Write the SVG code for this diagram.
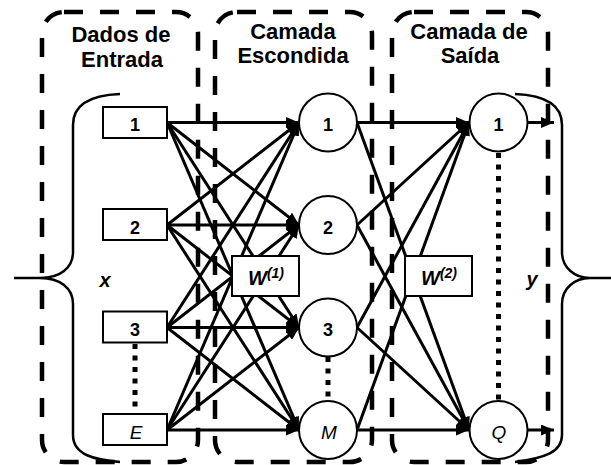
<svg xmlns="http://www.w3.org/2000/svg" width="611" height="465" viewBox="0 0 611 465">
  <style>
    .frame{fill:none;stroke:#000;stroke-width:4.5;stroke-dasharray:19 17}
    .brace{fill:none;stroke:#000;stroke-width:2.5}
    .title{font-family:"Liberation Sans",Arial,sans-serif;font-weight:bold;font-size:22px;text-anchor:middle}
    .box{fill:#fff;stroke:#000;stroke-width:2}
    .num{font-family:"Liberation Sans",Arial,sans-serif;font-weight:bold;font-size:18px;text-anchor:middle}
    .var{font-family:"Liberation Sans",Arial,sans-serif;font-style:italic;font-size:19px;text-anchor:middle}
    .lbl{font-family:"Liberation Sans",Arial,sans-serif;font-style:italic;font-weight:bold;font-size:20px}
    .edge{fill:none;stroke:#000;stroke-width:3;marker-end:url(#arrow)}
    .dots{fill:none;stroke:#000;stroke-width:5;stroke-dasharray:5 6.5}
  </style>
  <defs>
    <marker id="arrow" markerUnits="userSpaceOnUse" markerWidth="13" markerHeight="11" viewBox="0 0 13 11" refX="13" refY="5.5" orient="auto">
      <path d="M0,0 L13,5.5 L0,11 z" fill="#000"/>
    </marker>
  </defs>

  <!-- braces grouping the input vector x and output vector y -->
  <g id="braces">
    <path class="brace" d="M120,94 C95,95 73,102 73,125 L73,252 C73,268 60,278 40,278 L14,278 M40,278 C60,278 73,288 73,304 L73,435 C73,455 95,460 120,462"/>
    <path class="brace" d="M515,94 C540,95 562,102 562,125 L562,252 C562,268 575,278 590,278 L611,278 M590,278 C575,278 562,288 562,304 L562,435 C562,452 545,458 515,462"/>
  </g>

  <!-- weighted connections -->
  <g id="connectors">
    <!-- input layer to hidden layer -->
    <path class="edge" d="M167,122.5 L299,122.5"/>
    <path class="edge" d="M167,122.5 L299,225"/>
    <path class="edge" d="M167,122.5 L299,327.5"/>
    <path class="edge" d="M167,122.5 L299,430"/>
    <path class="edge" d="M167,225 L299,122.5"/>
    <path class="edge" d="M167,225 L299,225"/>
    <path class="edge" d="M167,225 L299,327.5"/>
    <path class="edge" d="M167,225 L299,430"/>
    <path class="edge" d="M167,327.5 L299,122.5"/>
    <path class="edge" d="M167,327.5 L299,225"/>
    <path class="edge" d="M167,327.5 L299,327.5"/>
    <path class="edge" d="M167,327.5 L299,430"/>
    <path class="edge" d="M167,430 L299,122.5"/>
    <path class="edge" d="M167,430 L299,225"/>
    <path class="edge" d="M167,430 L299,327.5"/>
    <path class="edge" d="M167,430 L299,430"/>
    <!-- hidden layer to output layer -->
    <path class="edge" d="M357,122.5 L469,122.5"/>
    <path class="edge" d="M357,122.5 L469,430"/>
    <path class="edge" d="M357,225 L469,122.5"/>
    <path class="edge" d="M357,225 L469,430"/>
    <path class="edge" d="M357,327.5 L469,122.5"/>
    <path class="edge" d="M357,327.5 L469,430"/>
    <path class="edge" d="M357,430 L469,122.5"/>
    <path class="edge" d="M357,430 L469,430"/>
    <!-- network outputs -->
    <path class="edge" d="M528,122.5 L554,122.5"/>
    <path class="edge" d="M528,430 L554,430"/>
    <!-- ellipsis between nodes -->
    <path class="dots" d="M135,344 L135,414"/>
    <path class="dots" d="M328,357 L328,401"/>
    <path class="dots" d="M498.5,153 L498.5,401"/>
  </g>

  <!-- input nodes -->
  <g id="in1"><rect class="box" x="103" y="107" width="64" height="31"/><text class="num" x="135" y="131">1</text></g>
  <g id="in2"><rect class="box" x="103" y="209" width="64" height="31"/><text class="num" x="135" y="233.5">2</text></g>
  <g id="in3"><rect class="box" x="103" y="311.5" width="64" height="31"/><text class="num" x="135" y="336">3</text></g>
  <g id="inE"><rect class="box" x="103" y="414" width="64" height="31"/><text class="var" x="136" y="438.5">E</text></g>

  <!-- hidden nodes -->
  <g id="h1"><circle class="box" cx="328" cy="122.5" r="29"/><text class="num" x="328" y="131">1</text></g>
  <g id="h2"><circle class="box" cx="328" cy="225" r="29"/><text class="num" x="328" y="233.5">2</text></g>
  <g id="h3"><circle class="box" cx="328" cy="327.5" r="29"/><text class="num" x="328" y="336">3</text></g>
  <g id="hM"><circle class="box" cx="328" cy="430" r="29"/><text class="var" x="329" y="438.5">M</text></g>

  <!-- output nodes -->
  <g id="o1"><circle class="box" cx="498.5" cy="122.5" r="29"/><text class="num" x="498.5" y="131">1</text></g>
  <g id="oQ"><circle class="box" cx="498.5" cy="430" r="29"/><text class="var" x="499" y="438.5">Q</text></g>

  <!-- weight matrices -->
  <g id="w1"><rect class="box" x="232" y="256" width="67" height="40"/><text class="lbl" x="248" y="285" font-size="21">W<tspan font-size="14" dy="-7">(1)</tspan></text></g>
  <g id="w2"><rect class="box" x="405" y="256" width="67" height="40"/><text class="lbl" x="421" y="285" font-size="21">W<tspan font-size="14" dy="-7">(2)</tspan></text></g>

  <!-- vector labels -->
  <g id="vx"><text class="lbl" x="105" y="287" text-anchor="middle">x</text></g>
  <g id="vy"><text class="lbl" x="532" y="286" text-anchor="middle">y</text></g>

  <!-- layer frames -->
  <g id="layers">
    <rect class="frame" x="42" y="12" width="156" height="450" rx="22"/>
    <rect class="frame" x="215" y="12" width="157" height="450" rx="22"/>
    <rect class="frame" x="392" y="12" width="156" height="450" rx="22"/>
    <text class="title" x="121" y="42">Dados de</text>
    <text class="title" x="122" y="67">Entrada</text>
    <text class="title" x="293" y="39">Camada</text>
    <text class="title" x="293" y="63">Escondida</text>
    <text class="title" x="469" y="39">Camada de</text>
    <text class="title" x="470" y="63">Saída</text>
  </g>
</svg>
